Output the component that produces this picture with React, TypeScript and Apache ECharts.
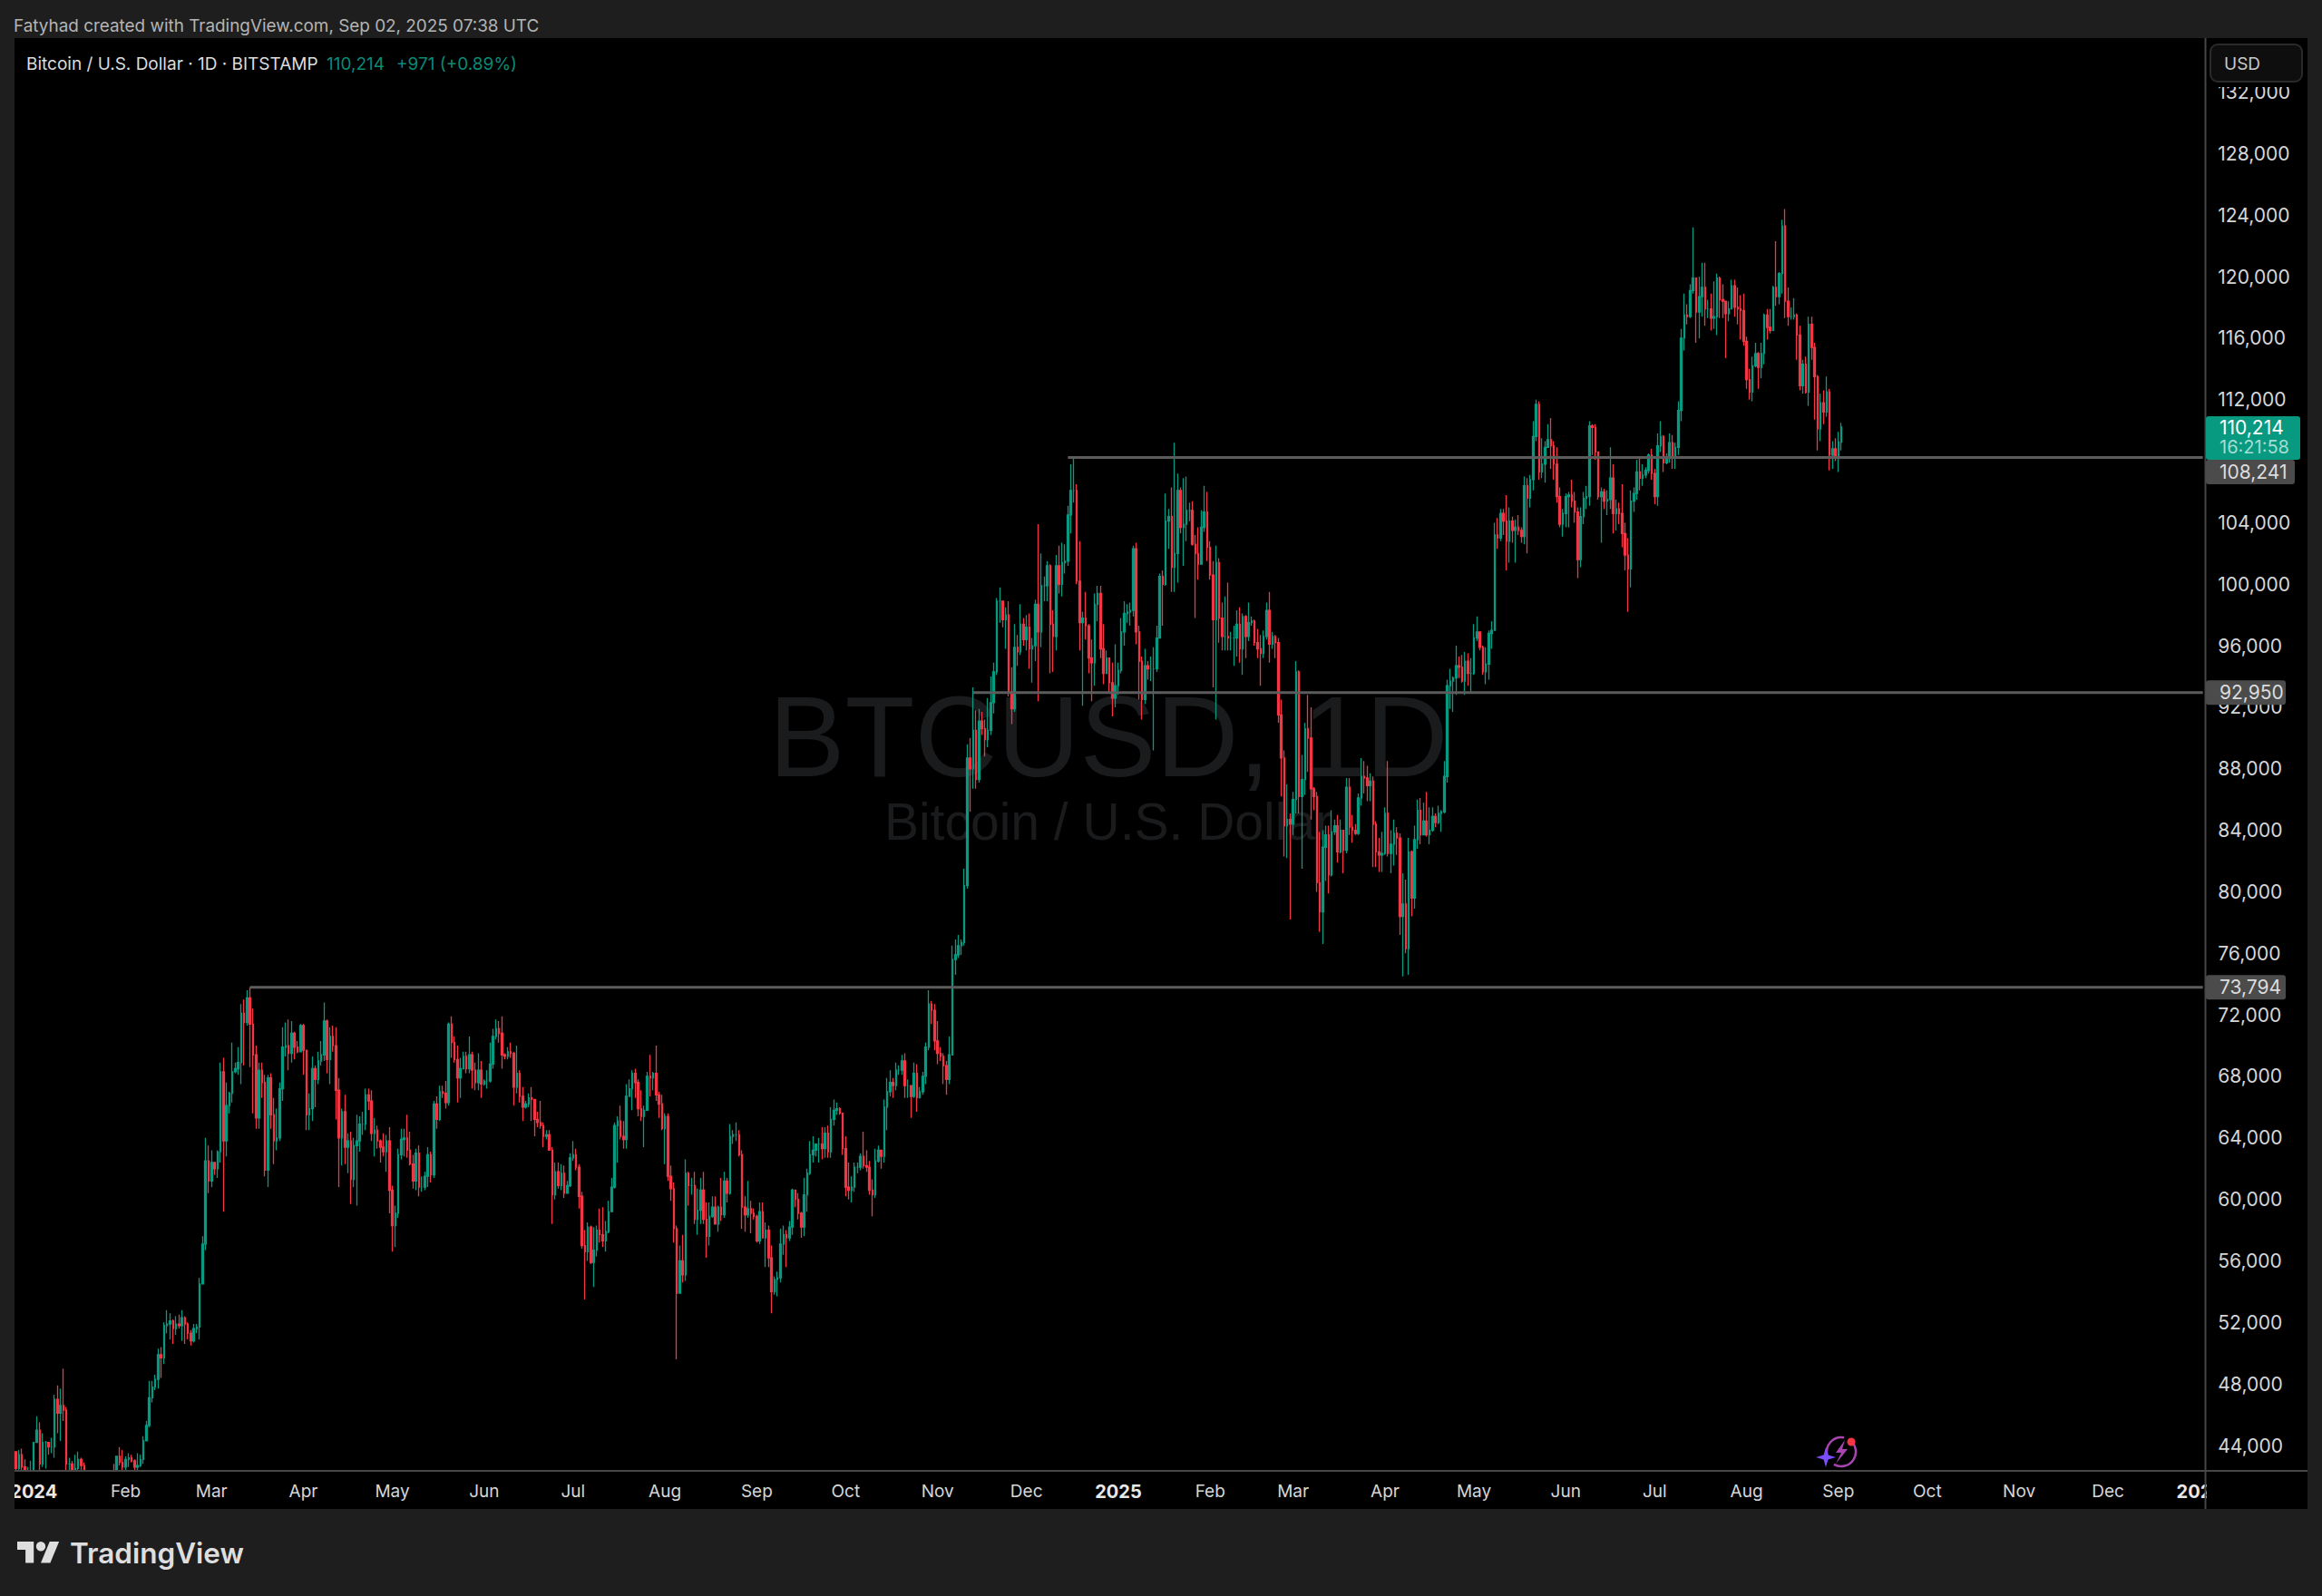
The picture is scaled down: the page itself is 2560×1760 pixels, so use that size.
import React, { useEffect, useRef } from "react";
import * as echarts from "echarts";

// Each candle: [close, high, low] in thousands of USD; the open is the previous close.
const firstOpen = 43.6;
const dec23 = [[42.5,43.6,41.6],[43.4,43.7,42.1],[42.6,43.8,42.3],[42.1,43.1,41.3],[42.1,42.6,41.5],[42.3,43.0,41.9]];
const jan24 = [[44.2,44.2,42.2],[45.0,45.9,44.2],[42.8,45.5,40.8],[44.2,44.8,42.6],[44.2,44.3,42.5],[43.9,44.2,43.4],[43.9,44.5,43.5],[47.0,47.3,43.2],[46.1,47.9,44.8],[46.6,47.7,44.3],[46.3,49.0,45.6],[42.8,46.5,41.5],[42.8,43.2,42.4],[41.7,43.0,41.7],[42.5,43.4,41.7],[43.1,43.6,42.0],[42.7,43.2,42.2],[41.3,42.9,40.6],[41.6,42.2,40.3],[41.7,41.9,41.4],[41.6,41.9,41.5],[39.5,41.6,39.4],[39.9,40.6,38.5],[40.1,40.6,39.5],[39.9,40.3,39.6],[41.8,42.2,39.8],[42.1,42.2,41.4],[42.0,42.8,41.6],[43.3,43.3,41.8],[42.9,43.9,42.7],[42.6,43.7,42.3]];
const feb24 = [[43.1,43.3,41.9],[43.2,43.5,42.6],[43.0,43.4,42.9],[42.6,43.1,42.3],[42.7,43.5,42.3],[43.1,43.4,42.6],[44.3,44.6,42.8],[45.3,45.6,44.3],[47.1,48.2,45.2],[47.8,48.2,46.8],[48.3,48.6,47.6],[49.9,50.3,47.7],[49.7,50.4,48.4],[51.8,52.0,49.3],[51.9,52.8,51.3],[52.1,52.6,50.9],[51.6,52.2,50.6],[51.9,52.4,51.2],[51.8,52.5,51.6],[52.3,52.8,50.8],[51.9,52.4,50.6],[51.3,52.0,50.9],[50.8,51.5,50.5],[51.6,51.9,50.7],[51.7,51.9,51.3],[54.5,54.9,50.9],[57.1,57.6,54.5],[62.5,64.0,56.7],[61.2,63.5,60.4]];
const mar24 = [[62.4,63.2,60.8],[62.0,62.4,61.6],[63.1,63.2,61.4],[68.3,68.9,62.4],[63.8,69.2,59.2],[66.1,67.6,62.8],[66.9,67.0,65.6],[68.3,70.2,66.3],[68.5,68.9,68.2],[68.9,69.9,68.1],[72.1,72.7,67.5],[71.5,73.0,68.7],[73.1,73.6,71.3],[71.4,73.8,68.6],[69.4,72.4,65.6],[65.3,70.0,64.6],[68.4,68.9,64.6],[67.6,68.9,66.6],[61.9,68.1,61.5],[67.9,68.1,60.8],[65.5,68.2,64.6],[63.8,66.6,62.3],[64.0,65.9,63.2],[67.2,67.6,63.8],[69.9,71.2,66.4],[70.0,71.5,69.3],[69.5,71.7,68.4],[70.8,71.6,68.9],[69.9,70.9,69.1],[69.6,70.3,69.5],[71.3,71.4,69.6]];
const apr24 = [[69.7,71.4,68.1],[65.5,69.7,64.5],[65.9,66.9,64.5],[68.5,69.3,65.1],[67.8,68.7,66.0],[69.0,69.6,67.5],[69.4,70.3,68.7],[71.6,72.8,69.0],[69.1,71.7,68.2],[70.6,71.2,67.5],[70.0,71.3,69.6],[67.1,71.2,65.2],[64.0,67.9,60.8],[65.7,65.9,62.2],[63.4,66.8,62.3],[63.8,64.3,61.7],[61.3,64.4,59.7],[63.5,64.0,60.8],[63.8,65.5,59.6],[64.9,65.4,63.1],[64.9,65.7,64.2],[66.8,67.2,64.5],[66.4,67.2,65.8],[64.3,67.1,63.8],[64.5,65.3,62.8],[63.8,64.8,63.3],[63.4,63.9,62.4],[63.1,64.3,62.8],[63.8,64.2,61.8],[60.6,64.7,59.1]];
const may24 = [[58.3,60.9,56.6],[59.1,59.6,56.9],[62.9,63.3,58.8],[63.9,64.6,62.6],[64.0,64.6,62.8],[63.2,65.5,62.7],[62.3,64.4,62.2],[61.2,62.9,60.7],[63.0,63.3,60.6],[60.8,63.5,60.2],[60.8,61.5,60.5],[61.5,61.8,60.6],[62.9,63.4,60.8],[61.6,63.1,61.1],[66.2,66.4,61.4],[65.2,66.7,64.6],[67.0,67.4,65.1],[66.9,67.4,66.6],[66.3,67.7,65.9],[71.4,71.5,66.1],[70.2,71.9,69.2],[69.1,70.6,68.9],[67.9,70.0,66.3],[68.5,69.2,66.6],[69.3,69.6,68.5],[68.5,69.6,68.2],[69.4,70.6,68.2],[68.4,69.6,67.2],[67.6,68.9,67.1],[68.4,69.5,67.1],[67.5,69.0,66.6]];
const jun24 = [[67.7,67.8,67.4],[67.7,68.4,67.2],[68.8,70.2,67.6],[70.6,71.1,68.5],[71.1,71.7,70.4],[70.8,71.6,70.2],[69.4,71.9,68.5],[69.3,69.5,69.1],[69.6,69.9,69.1],[69.5,70.2,69.2],[67.3,69.6,66.1],[68.2,70.0,66.9],[66.7,68.4,66.3],[66.0,67.3,65.1],[66.2,66.4,65.9],[66.6,66.9,66.0],[66.5,67.3,65.1],[65.2,66.5,64.1],[65.0,65.7,64.7],[64.8,66.4,64.6],[64.1,65.0,63.4],[64.2,64.5,63.9],[63.2,64.5,63.2],[60.3,63.4,58.4],[61.8,62.4,60.0],[60.9,62.4,60.7],[61.7,62.3,60.6],[60.4,62.2,60.1],[60.9,61.2,60.4],[62.7,63.0,60.8]];
const jul24 = [[62.9,63.8,62.5],[62.1,63.3,61.9],[60.2,62.3,59.4],[57.0,60.5,56.8],[56.6,58.0,53.5],[58.2,58.5,56.0],[55.9,58.3,55.8],[56.7,58.2,54.3],[58.0,58.3,56.3],[57.7,59.4,57.2],[57.3,59.5,56.9],[57.9,58.6,56.6],[59.2,59.9,57.8],[60.8,61.4,59.3],[64.8,65.0,60.7],[65.1,65.4,62.4],[64.1,66.1,63.9],[63.9,65.1,63.3],[66.7,67.5,63.3],[67.2,67.8,66.7],[68.2,68.4,65.8],[67.6,68.5,66.6],[65.9,67.8,65.4],[65.4,67.1,65.1],[65.8,66.1,63.4],[68.0,68.3,65.8],[67.9,69.4,66.7],[68.2,68.3,67.1],[66.8,70.0,66.4],[66.2,67.0,65.3],[64.6,66.8,64.5]];
const aug24 = [[65.4,65.6,62.3],[61.5,65.6,61.2],[60.7,62.2,59.9],[58.1,61.1,57.2],[53.9,58.3,49.6],[56.0,57.0,54.0],[55.1,57.7,54.6],[61.7,62.6,54.7],[60.9,61.8,59.6],[60.9,61.4,60.3],[58.7,61.8,58.4],[59.3,60.7,57.7],[60.6,61.4,58.4],[58.7,61.8,58.4],[57.6,59.8,56.2],[58.9,59.8,57.0],[59.5,60.2,58.8],[58.4,60.2,58.4],[59.5,59.6,57.9],[59.0,61.4,58.6],[61.2,61.8,58.8],[60.4,61.4,59.8],[64.1,64.9,60.3],[64.2,64.5,63.6],[64.2,65.0,63.8],[62.9,64.5,62.8],[59.5,63.2,58.1],[59.0,60.2,57.9],[59.4,61.2,58.8],[59.1,59.9,57.8],[58.9,59.4,58.7]];
const sep24 = [[57.3,59.0,57.2],[59.2,59.8,57.1],[57.5,59.8,57.5],[58.0,58.5,55.6],[56.2,58.3,55.6],[54.0,57.0,52.6],[54.8,55.0,53.8],[54.9,55.3,53.7],[57.1,58.1,54.6],[57.7,58.3,56.4],[57.5,58.0,55.6],[58.2,58.6,57.3],[60.6,60.7,57.7],[60.0,60.6,59.5],[59.1,60.4,58.7],[58.2,59.2,57.5],[60.3,61.4,57.6],[61.7,62.0,59.2],[62.9,63.8,61.6],[63.2,64.1,62.4],[63.6,63.6,62.8],[63.6,64.0,62.4],[63.3,64.7,62.6],[64.3,64.7,62.7],[63.1,64.8,62.7],[65.2,66.0,62.7],[65.8,66.5,64.8],[65.9,66.3,65.5],[65.6,66.0,65.5],[63.3,65.6,62.9]];
const oct24 = [[60.8,64.1,60.2],[60.6,62.4,60.0],[60.8,61.5,59.8],[62.1,62.4,60.5],[62.1,62.4,61.7],[62.8,63.0,61.9],[62.2,64.4,62.0],[62.1,63.2,61.8],[60.6,62.5,60.3],[60.3,61.3,58.9],[62.5,63.3,60.1],[63.2,63.5,62.4],[62.8,63.2,62.0],[66.0,66.5,62.4],[67.0,67.9,64.5],[67.6,68.4,66.7],[67.4,67.9,66.6],[68.4,68.9,67.1],[68.4,68.7,68.1],[69.0,69.4,68.1],[67.4,69.5,66.6],[67.4,67.8,66.6],[66.7,67.4,65.3],[68.2,68.9,66.6],[66.6,68.8,65.7],[67.0,67.3,66.6],[68.0,68.3,66.8],[69.9,70.2,67.5],[72.7,73.6,69.7],[72.3,72.9,71.4],[70.3,72.7,69.7]];
const nov24 = [[69.5,71.6,68.8],[69.3,69.9,69.0],[68.7,69.5,67.5],[67.8,69.0,66.8],[69.4,70.6,67.5],[75.6,76.5,69.4],[75.9,76.9,74.6],[76.5,77.2,75.7],[76.7,76.9,75.9],[80.4,81.5,76.5],[88.7,89.6,80.2],[88.0,90.0,85.2],[90.5,93.3,86.7],[87.3,91.8,86.7],[91.1,91.9,87.1],[90.6,91.7,90.2],[89.9,91.2,88.8],[90.5,92.6,89.4],[92.3,94.0,90.2],[94.3,94.9,91.6],[98.9,99.1,94.1],[98.9,99.8,97.5],[97.7,98.9,97.2],[98.0,98.5,95.8],[93.0,98.9,92.7],[91.9,94.6,90.9],[95.9,97.4,91.7],[95.6,96.7,94.7],[97.4,98.7,95.4],[96.4,97.8,96.0]];
const dec24 = [[97.2,98.0,95.7],[95.8,98.1,94.5],[96.0,96.5,93.6],[98.7,99.0,95.0],[96.9,103.9,92.4],[99.9,102.0,95.9],[99.9,100.5,98.9],[101.2,101.5,98.9],[97.4,101.3,94.2],[96.6,98.3,94.3],[101.2,101.9,95.7],[100.0,102.5,99.4],[101.4,102.7,99.2],[101.5,102.6,100.7],[104.5,105.1,101.2],[106.1,107.8,103.3],[106.1,108.2,105.3],[100.2,106.5,100.0],[97.5,102.8,95.7],[97.8,98.2,92.1],[97.3,99.5,96.4],[95.2,97.4,94.2],[94.9,96.4,92.4],[98.7,99.4,93.4],[99.4,99.9,97.6],[95.8,99.9,95.2],[94.2,97.4,93.5],[95.2,95.7,94.2],[93.6,95.2,93.0],[92.6,94.9,91.4],[93.4,96.1,92.0]];
const jan25 = [[94.4,94.9,92.8],[96.9,97.8,94.2],[98.1,98.9,96.0],[98.2,98.7,97.5],[98.3,98.8,97.3],[102.3,102.5,97.9],[96.9,102.7,96.1],[95.0,97.3,92.5],[92.5,95.3,91.2],[94.7,95.8,92.2],[94.5,95.0,93.8],[94.5,95.3,93.7],[94.5,95.9,89.2],[96.5,97.3,94.3],[100.5,100.7,96.5],[100.0,100.9,97.3],[104.1,105.9,99.9],[104.4,104.9,102.3],[101.1,106.3,99.5],[102.0,109.2,99.5],[106.1,107.2,100.1],[103.7,106.3,103.3],[103.9,106.9,101.2],[104.8,107.0,102.8],[104.8,105.3,104.1],[102.6,105.4,102.5],[102.0,103.2,97.8],[101.3,103.7,100.3],[103.7,104.8,101.3],[104.7,106.4,103.4],[102.4,106.0,101.5]];
const feb25 = [[100.6,102.8,100.3],[97.7,101.5,93.3],[101.4,102.5,91.2],[97.8,101.7,96.2],[96.6,98.8,95.7],[96.6,99.2,95.7],[96.5,100.1,95.7],[96.5,96.9,95.7],[96.5,97.3,94.7],[97.4,98.3,95.3],[95.8,98.5,94.9],[97.9,98.1,94.1],[96.6,98.0,95.2],[97.5,98.8,96.3],[97.6,97.9,97.3],[96.2,97.7,96.0],[95.8,97.1,95.2],[95.5,96.7,93.4],[96.6,97.0,95.2],[98.3,98.8,96.4],[96.1,99.5,94.9],[96.6,96.9,95.8],[96.2,96.7,95.2],[91.5,96.5,91.0],[88.7,92.5,86.2],[84.3,89.2,82.3],[84.7,87.0,82.2],[84.4,85.1,78.2]];
const mar25 = [[86.0,86.5,83.7],[94.3,95.0,85.1],[86.2,94.4,85.1],[87.3,88.9,81.5],[90.6,91.0,86.3],[90.0,92.8,87.8],[86.7,92.0,84.7],[86.2,86.8,85.3],[80.6,86.5,80.0],[78.7,83.9,77.4],[82.9,84.0,76.6],[83.7,84.3,80.7],[81.1,84.3,79.9],[83.9,85.3,81.0],[84.3,84.7,83.7],[82.6,85.0,81.9],[84.0,84.7,82.5],[82.7,84.0,81.2],[86.8,87.4,82.5],[84.2,87.4,83.7],[84.0,85.0,83.2],[83.8,84.4,83.7],[86.1,86.4,83.7],[87.5,88.7,85.6],[87.4,88.5,86.4],[86.9,88.2,85.9],[87.2,87.7,85.9],[84.4,87.5,81.6],[82.6,84.6,81.6],[82.4,83.5,81.3],[82.5,83.9,81.3]];
const apr25 = [[85.1,85.5,82.4],[82.5,88.5,82.3],[83.1,84.0,81.2],[83.8,84.7,81.7],[83.5,84.2,82.4],[78.4,83.8,77.2],[79.2,81.2,74.5],[76.3,80.8,76.0],[82.6,83.5,74.6],[79.6,82.7,78.4],[83.4,84.3,78.9],[85.3,86.0,82.8],[83.7,86.1,83.1],[84.6,85.8,83.7],[83.7,86.5,83.6],[84.0,85.5,83.1],[84.9,85.5,83.9],[84.5,85.1,84.2],[85.1,85.6,84.4],[85.2,85.3,83.9],[87.5,88.5,85.1],[93.4,93.8,87.1],[93.7,94.5,91.9],[93.9,94.0,91.7],[94.7,96.0,92.8],[94.6,95.3,93.9],[93.7,95.4,93.6],[95.0,95.6,92.8],[94.2,95.5,93.4],[94.2,95.2,92.9]];
const may25 = [[96.5,97.4,94.1],[96.9,97.9,96.3],[95.9,96.9,95.7],[94.3,96.0,94.1],[94.8,95.9,93.5],[96.8,97.0,93.8],[97.0,97.6,95.8],[103.2,104.0,97.0],[103.0,104.3,102.3],[104.6,104.9,102.8],[104.1,104.9,103.2],[102.8,105.8,100.9],[104.1,105.0,101.4],[103.5,104.4,102.7],[103.7,104.2,101.4],[103.5,104.5,103.2],[103.1,103.7,102.7],[106.4,107.0,102.6],[105.6,106.9,102.0],[106.8,107.1,105.0],[109.6,110.6,106.1],[111.7,112.0,109.3],[107.3,111.9,106.8],[107.8,109.5,106.9],[108.9,109.3,106.6],[109.4,110.4,108.9],[109.0,110.8,107.5],[107.8,109.3,106.8],[105.7,108.9,105.3],[103.9,106.3,103.7],[104.6,104.9,103.1]];
const jun25 = [[105.7,105.9,103.7],[105.8,106.0,103.7],[105.4,106.8,105.0],[104.7,106.0,104.0],[101.6,105.0,100.4],[104.4,105.0,101.1],[105.6,106.0,103.9],[105.7,106.4,104.9],[110.3,110.6,105.1],[110.2,110.4,108.4],[108.6,110.4,108.1],[105.7,108.6,105.5],[106.0,106.3,102.7],[105.4,106.2,104.9],[105.5,106.1,104.5],[106.9,108.9,104.9],[104.6,107.8,103.3],[104.9,105.5,103.5],[104.6,105.3,103.9],[103.3,106.5,102.4],[101.9,104.0,100.9],[101.0,103.0,98.2],[105.4,106.1,99.8],[105.9,106.3,104.7],[107.3,108.1,105.5],[106.9,108.2,106.1],[107.1,107.8,106.4],[107.4,107.6,106.9],[108.4,108.5,107.2],[107.2,108.8,106.8]];
const jul25 = [[105.7,107.5,105.2],[109.0,109.8,105.1],[109.6,110.6,108.6],[107.9,109.7,107.3],[108.2,108.5,107.8],[109.2,109.8,107.9],[108.2,109.7,107.5],[108.9,109.2,107.5],[111.3,111.9,108.4],[116.0,116.6,110.6],[117.5,118.9,115.2],[117.4,118.2,116.9],[119.1,119.5,117.3],[119.9,123.2,118.9],[117.7,119.9,115.7],[118.7,120.0,116.0],[119.3,120.9,117.4],[117.9,120.9,116.8],[117.9,118.5,117.3],[117.3,118.9,116.5],[117.4,119.7,116.6],[119.9,120.2,116.2],[118.5,120.0,117.3],[118.4,119.5,117.3],[117.6,118.3,114.7],[117.9,118.4,117.1],[119.4,119.8,117.9],[118.0,119.8,117.4],[117.9,119.3,116.9],[117.8,118.8,115.9],[115.8,118.9,115.5]];
const aug25 = [[113.3,116.1,112.7],[112.5,114.0,112.0],[114.2,114.8,111.9],[115.0,115.7,114.1],[114.1,115.1,112.7],[115.0,115.7,113.4],[117.5,117.6,114.3],[116.7,117.9,115.9],[116.5,117.9,116.3],[119.3,119.4,116.6],[118.7,122.3,118.1],[120.2,120.3,118.2],[123.3,123.7,118.9],[118.4,124.4,117.3],[117.4,119.3,116.8],[117.4,118.0,117.2],[117.5,118.6,117.2],[116.2,117.6,114.6],[112.9,116.8,112.6],[114.3,114.6,112.4],[112.5,114.8,112.4],[116.9,117.4,111.6],[115.4,117.4,114.6],[113.5,115.7,110.7],[110.1,113.6,108.7],[111.8,112.4,109.3],[111.2,112.6,110.4],[112.5,113.5,110.9],[108.4,112.7,107.4],[108.8,109.3,107.5],[108.2,109.5,108.0]];
const sep25 = [[109.243,109.9,107.3],[110.214,110.5,108.7]];

const priceTicks = [44000,48000,52000,56000,60000,64000,68000,72000,76000,80000,84000,88000,92000,96000,100000,104000,108000,112000,116000,120000,124000,128000,132000];
const monthNames = ["Jan","Feb","Mar","Apr","May","Jun","Jul","Aug","Sep","Oct","Nov","Dec"];
const levels = [
  { price: 108241, text: "108,241", from: "2024-12-15", boxWidth: 98 },
  { price: 92950, text: "92,950", from: "2024-11-13", boxWidth: 88 },
  { price: 73794, text: "73,794", from: "2024-03-14", boxWidth: 88 },
];
const lastPrice = 110214;
const UP = "#089981";
const DOWN = "#F23645";
const FONT = "Inter, Roboto, sans-serif";

const allMonths = [dec23, jan24, feb24, mar24, apr24, may24, jun24, jul24, aug24, sep24, oct24, nov24, dec24, jan25, feb25, mar25, apr25, may25, jun25, jul25, aug25, sep25];

const categories: string[] = [];
for (let i = 0; i < 739; i++) {
  categories.push(new Date(Date.UTC(2023, 11, 26 + i)).toISOString().slice(0, 10));
}

const candles: number[][] = [];
let prev = firstOpen;
allMonths.flat().forEach(([c, h, l]) => {
  candles.push([prev * 1000, c * 1000, Math.min(l, c, prev) * 1000, Math.max(h, c, prev) * 1000]);
  prev = c;
});

echarts.graphic.registerShape(
  "tvlogo",
  echarts.graphic.extendPath("M14 22H7V11H0V4h14v18zM28 22h-8l7.5-18h8L28 22zM24 8a4 4 0 1 1-8 0 4 4 0 0 1 8 0z", {})
);

const levelSeries = levels.map((l) => ({
  type: "line",
  name: l.text,
  data: [[l.from, l.price], [categories[categories.length - 1], l.price]],
  showSymbol: false,
  symbol: "none",
  silent: true,
  z: 5,
  lineStyle: { color: "#5c5c5c", width: 3, type: "solid" },
}));

export default function App() {
  const ref = useRef<HTMLDivElement>(null);
  useEffect(() => {
    document.body.style.margin = "0";
    document.body.style.background = "#1e1e1e";
    const chart = echarts.init(ref.current!, null, { renderer: "svg", width: 2560, height: 1760 });
    chart.setOption({
      animation: false,
      backgroundColor: "#1e1e1e",
      textStyle: { fontFamily: FONT },
      grid: { left: 16, top: 42, width: 2414.3, height: 1580, containLabel: false },
      xAxis: {
        type: "category",
        z: 101,
        data: categories,
        boundaryGap: true,
        axisLine: { show: false },
        axisTick: { show: false },
        splitLine: { show: false },
        axisLabel: {
          show: true,
          margin: 13,
          color: "#d6d6d6",
          fontFamily: FONT,
          fontSize: 19,
          hideOverlap: false,
          interval: (_i: number, v: string) => v.endsWith("-01"),
          formatter: (v: string) => {
            const m = Number(v.slice(5, 7));
            return m === 1 ? `{b|${v.slice(0, 4)}}` : monthNames[m - 1];
          },
          rich: { b: { fontFamily: FONT, fontWeight: 700, fontSize: 20, color: "#e8e8e8" } },
        },
      },
      yAxis: {
        type: "value",
        position: "right",
        min: 42350,
        max: 135510,
        scale: true,
        axisLine: { show: false },
        axisTick: { show: false },
        splitLine: { show: false },
        axisLabel: {
          show: true,
          margin: 15,
          color: "#d6d6d6",
          fontFamily: FONT,
          fontSize: 21,
          customValues: priceTicks,
          formatter: (v: number) => v.toLocaleString("en-US"),
        },
      },
      series: [
        {
          type: "candlestick",
          data: candles,
          large: false,
          progressive: 0,
          barWidth: 2,
          clip: true,
          itemStyle: { color: UP, color0: DOWN, borderColor: UP, borderColor0: DOWN, borderWidth: 1.3 },
        },
        ...levelSeries,
      ],
    });

    const yOf = (v: number) => chart.convertToPixel({ yAxisIndex: 0 }, v) as number;
    const txt = (text: string, x: number, y: number, fill: string, fontSize = 21, extra: any = {}) => ({
      type: "text",
      z: 110,
      x,
      y,
      style: { text, fill, fontFamily: FONT, fontSize, verticalAlign: "middle", ...extra },
    });
    const rect = (x: number, y: number, width: number, height: number, fill: string, z = 100, r = 0, stroke?: string) => ({
      type: "rect",
      z,
      shape: { x, y, width, height, r },
      style: { fill, stroke, lineWidth: stroke ? 2 : 0 },
    });
    const lastY = yOf(lastPrice);
    const lastBoxBottom = lastY + 36;
    const levelBoxes = levels.flatMap((l) => {
      const line = yOf(l.price);
      // a level label that would hit the last-price box sits just under it
      const y = line - 13.5 < lastBoxBottom && line > lastY ? lastBoxBottom + 13.5 : line;
      return [
        rect(2432, y - 13.5, l.boxWidth, 27, "#4b4b4b", 105, 3),
        txt(l.text, 2447, y, "#dcdcdc"),
      ];
    });
    const star = [[2013, 1596], [2015.5, 1604.5], [2024, 1607], [2015.5, 1609.5], [2013, 1618], [2010.5, 1609.5], [2002, 1607], [2010.5, 1604.5]];
    const bolt = [[2034, 1588], [2024, 1602], [2030, 1602], [2024, 1614], [2037, 1598], [2031, 1598]];
    chart.setOption({
      graphic: [
        // panel
        rect(16, 42, 2528, 1622, "#000000", -10),
        { type: "text", z: -5, x: 1222, y: 812, style: { text: "BTCUSD, 1D", fill: "#1a1b1d", fontFamily: "Liberation Sans", fontSize: 126, align: "center", verticalAlign: "middle" } },
        { type: "text", z: -5, x: 1222, y: 906, style: { text: "Bitcoin / U.S. Dollar", fill: "#1a1b1d", fontFamily: "Liberation Sans", fontSize: 57, align: "center", verticalAlign: "middle" } },
        // time-axis band hides candles that run under the visible price range
        rect(16, 1622, 2528, 42, "#000000", 100),
        // clip edges
        rect(0, 1624, 16, 40, "#1e1e1e", 102),
        rect(2433, 1624, 111, 40, "#000000", 102),
        rect(2433, 42, 111, 54, "#000000", 100),
        // axis borders
        rect(2430.5, 42, 2, 1622, "#474747", 103),
        rect(16, 1621, 2528, 2, "#474747", 103),
        // USD box
        rect(2437, 49, 101, 41, "#0e0e0e", 104, 8, "#2a2a2a"),
        txt("USD", 2452, 70, "#c8c8c8", 19),
        // last price
        rect(2432, lastY - 12, 104, 48, "#089981", 105, 3),
        txt("110,214", 2447, lastY, "#ffffff"),
        txt("16:21:58", 2447, lastY + 22, "#a5ddd2", 20),
        ...levelBoxes,
        // header
        txt("Fatyhad created with TradingView.com, Sep 02, 2025 07:38 UTC", 15, 28, "#b4b4b4", 18.9),
        txt("Bitcoin / U.S. Dollar · 1D · BITSTAMP", 29, 70, "#dcdcdc", 19),
        txt("110,214", 360, 70, "#0a8a75", 19),
        txt("+971 (+0.89%)", 437, 70, "#0a8a75", 19),
        // logo
        { type: "tvlogo", z: 110, x: 19, y: 1694.8, scaleX: 1.3, scaleY: 1.3, style: { fill: "#dedede" } },
        txt("TradingView", 77, 1712, "#dedede", 31.5, { fontWeight: 600 }),
        // lightning badge
        { type: "arc", z: 110, shape: { cx: 2030, cy: 1601, r: 16, startAngle: -1.0, endAngle: 2.1, clockwise: true }, style: { stroke: "#a845b0", lineWidth: 2.5, fill: "none" } },
        { type: "arc", z: 110, shape: { cx: 2030, cy: 1601, r: 16, startAngle: 2.9, endAngle: 4.9, clockwise: true }, style: { stroke: "#a845b0", lineWidth: 2.5, fill: "none" } },
        { type: "polygon", z: 110, shape: { points: bolt }, style: { fill: "#a845b0" } },
        { type: "polygon", z: 110, shape: { points: star }, style: { fill: "#7b4dff" } },
        { type: "circle", z: 111, shape: { cx: 2041, cy: 1590, r: 4.5 }, style: { fill: "#f23645" } },
      ],
    });
    return () => chart.dispose();
  }, []);
  return <div ref={ref} style={{ position: "absolute", left: 0, top: 0, width: 2560, height: 1760 }} />;
}
